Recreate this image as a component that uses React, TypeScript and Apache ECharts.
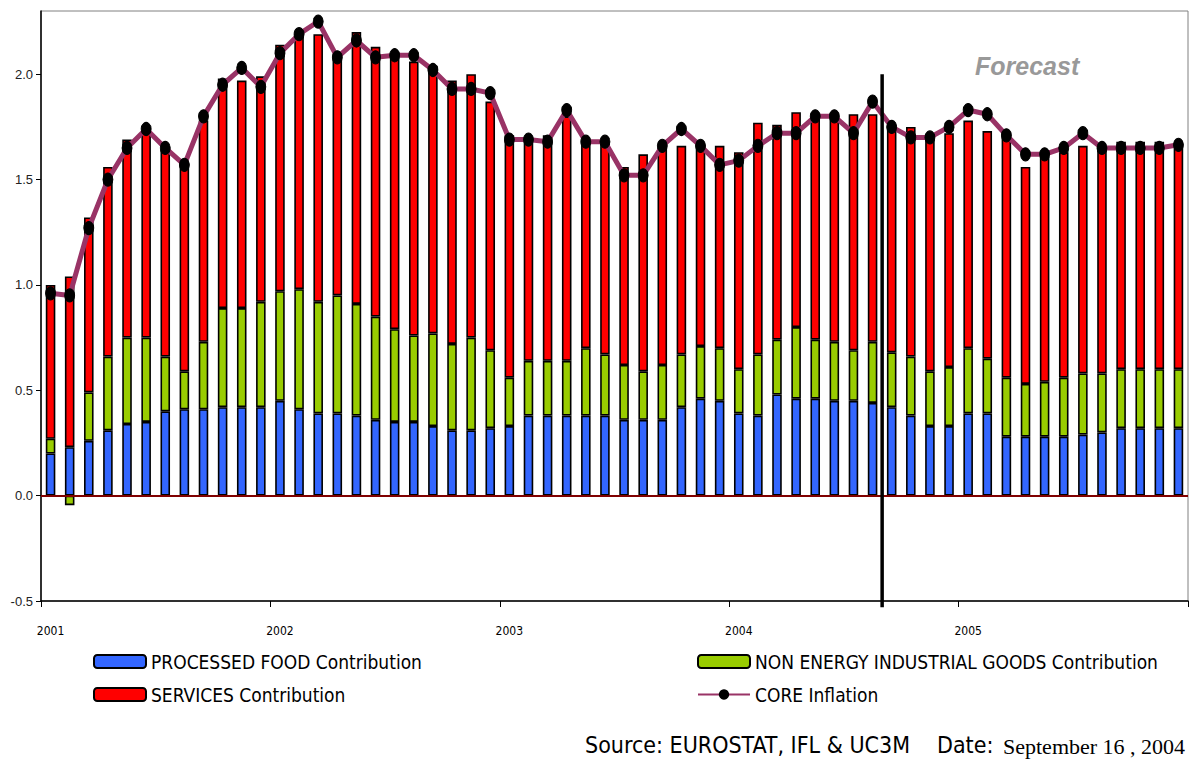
import React, { useEffect, useRef } from "react";
import * as echarts from "echarts";

const years = ["2001", "2002", "2003", "2004", "2005"];
const categories: string[] = [];
years.forEach((y) => {
  for (let m = 1; m <= 12; m++) categories.push(`${y}-${m < 10 ? "0" + m : m}`);
});

const processedFood = [
  0.20, 0.23, 0.26, 0.31, 0.34, 0.35, 0.40, 0.41, 0.41, 0.42, 0.42, 0.42,
  0.45, 0.41, 0.39, 0.39, 0.38, 0.36, 0.35, 0.35, 0.33, 0.31, 0.31, 0.32,
  0.33, 0.38, 0.38, 0.38, 0.38, 0.38, 0.36, 0.36, 0.36, 0.42, 0.46, 0.45,
  0.39, 0.38, 0.48, 0.46, 0.46, 0.45, 0.45, 0.44, 0.42, 0.38, 0.33, 0.33,
  0.39, 0.39, 0.28, 0.28, 0.28, 0.28, 0.29, 0.30, 0.32, 0.32, 0.32, 0.32,
];

const nonEnergyGoods = [
  0.07, -0.045, 0.23, 0.35, 0.41, 0.40, 0.26, 0.18, 0.32, 0.47, 0.47, 0.50,
  0.52, 0.57, 0.53, 0.56, 0.53, 0.49, 0.44, 0.41, 0.44, 0.41, 0.44, 0.37,
  0.23, 0.26, 0.26, 0.26, 0.32, 0.29, 0.26, 0.23, 0.26, 0.25, 0.25, 0.25,
  0.21, 0.29, 0.26, 0.34, 0.28, 0.28, 0.24, 0.29, 0.26, 0.28, 0.26, 0.28,
  0.31, 0.26, 0.28, 0.25, 0.26, 0.28, 0.29, 0.28, 0.28, 0.28, 0.28, 0.28,
];

const services = [
  0.73, 0.81, 0.83, 0.90, 0.94, 0.98, 0.98, 0.99, 1.05, 1.09, 1.08, 1.07,
  1.17, 1.21, 1.27, 1.13, 1.29, 1.28, 1.30, 1.30, 1.27, 1.25, 1.25, 1.18,
  1.15, 1.05, 1.07, 1.16, 0.97, 1.01, 0.94, 1.03, 1.03, 0.99, 0.95, 0.96,
  1.03, 1.10, 1.02, 1.02, 1.06, 1.07, 1.12, 1.08, 1.08, 1.09, 1.11, 1.11,
  1.08, 1.08, 1.15, 1.03, 1.07, 1.07, 1.08, 1.07, 1.08, 1.08, 1.08, 1.06,
];

const coreInflation = [
  0.96, 0.95, 1.27, 1.50, 1.65, 1.74, 1.65, 1.57, 1.80, 1.95, 2.03, 1.94,
  2.10, 2.19, 2.25, 2.08, 2.16, 2.08, 2.09, 2.09, 2.02, 1.93, 1.93, 1.91,
  1.69, 1.69, 1.68, 1.83, 1.68, 1.68, 1.52, 1.52, 1.66, 1.74, 1.66, 1.57,
  1.59, 1.66, 1.72, 1.72, 1.80, 1.80, 1.72, 1.87, 1.75, 1.70, 1.70, 1.75,
  1.83, 1.81, 1.71, 1.62, 1.62, 1.65, 1.72, 1.65, 1.65, 1.65, 1.65, 1.665,
];

// forecast divider: boundary before Sep 2004 (category index 44)
const forecastBoundary = 44;
const forecastLineRange = [2.0, -0.53];

const yTicks = [-0.5, 0.0, 0.5, 1.0, 1.5, 2.0];

const NAMES = {
  food: "PROCESSED FOOD Contribution",
  goods: "NON ENERGY INDUSTRIAL GOODS Contribution",
  services: "SERVICES Contribution",
  core: "CORE Inflation",
};

const NARROW = "'Liberation Sans Narrow', 'Arial Narrow', 'DejaVu Sans Condensed', sans-serif";

export default function App() {
  const ref = useRef<HTMLDivElement>(null);

  useEffect(() => {
    if (!ref.current) return;
    const chart = echarts.init(ref.current, undefined, { renderer: "svg" });
    const barStyle = (color: string) => ({
      color,
      borderColor: "#000",
      borderWidth: 1.6,
    });
    chart.setOption({
      animation: false,
      backgroundColor: "#fff",
      grid: {
        left: 41,
        right: 6,
        top: 11,
        bottom: 161,
        show: true,
        borderColor: "#808080",
        borderWidth: 1,
        backgroundColor: "transparent",
      },
      legend: [
        {
          data: [NAMES.food, NAMES.services],
          orient: "vertical",
          left: 88,
          top: 647,
          itemWidth: 52,
          itemHeight: 13,
          itemGap: 14,
          textStyle: { fontFamily: NARROW, fontSize: 19, color: "#000" },
        },
        {
          data: [NAMES.goods, NAMES.core],
          orient: "vertical",
          left: 692,
          top: 647,
          itemWidth: 52,
          itemHeight: 13,
          itemGap: 14,
          textStyle: { fontFamily: NARROW, fontSize: 19, color: "#000" },
        },
      ],
      xAxis: [
        {
          type: "category",
          data: categories,
          boundaryGap: true,
          axisLine: { onZero: false, lineStyle: { color: "#000", width: 1.5 } },
          axisTick: {
            show: true,
            length: 6,
            interval: (idx: number) => idx % 12 === 0,
            lineStyle: { color: "#000" },
          },
          axisLabel: {
            interval: (idx: number) => idx % 12 === 0,
            formatter: (v: string) => years[Math.floor(categories.indexOf(v) / 12)],
            fontFamily: NARROW,
            fontSize: 12,
            color: "#000",
            margin: 24,
          },
          splitLine: { show: false },
        },
        {
          type: "value",
          min: 0,
          max: 60,
          show: false,
        },
      ],
      yAxis: {
        type: "value",
        min: yTicks[0],
        max: 2.3,
        interval: 0.5,
        axisLine: { show: true, lineStyle: { color: "#000", width: 1.5 } },
        axisTick: { show: true, length: 5, lineStyle: { color: "#000" } },
        axisLabel: {
          showMaxLabel: false,
          formatter: (v: number) => (yTicks.some((t) => Math.abs(t - v) < 1e-6) ? v.toFixed(1) : ""),
          fontFamily: "'Liberation Sans', Arial, sans-serif",
          fontSize: 13,
          color: "#222",
          margin: 8,
        },
        splitLine: { show: false },
      },
      graphic: [
        {
          type: "text",
          left: 975,
          top: 53,
          style: {
            text: "Forecast",
            fontFamily: "'Liberation Sans', Arial, sans-serif",
            fontSize: 25,
            fontWeight: "bold",
            fontStyle: "italic",
            fill: "#999999",
          },
        },
        {
          type: "text",
          left: 585,
          top: 733,
          style: {
            text: "Source: EUROSTAT, IFL & UC3M",
            fontFamily: NARROW,
            fontSize: 23,
            fill: "#000",
          },
        },
        {
          type: "text",
          left: 937,
          top: 733,
          style: {
            text: "Date:",
            fontFamily: NARROW,
            fontSize: 23,
            fill: "#000",
          },
        },
        {
          type: "text",
          left: 1003,
          top: 735,
          style: {
            text: "September 16 , 2004",
            fontFamily: "'Liberation Serif', 'Times New Roman', serif",
            fontSize: 22,
            fill: "#000",
          },
        },
      ],
      series: [
        {
          name: NAMES.food,
          type: "bar",
          stack: "contrib",
          barWidth: "50%",
          data: processedFood,
          itemStyle: barStyle("#3366FF"),
          markLine: {
            silent: true,
            symbol: "none",
            label: { show: false },
            lineStyle: { color: "#800000", width: 2, type: "solid" },
            data: [{ yAxis: 0 }],
          },
        },
        {
          name: NAMES.goods,
          type: "bar",
          stack: "contrib",
          barWidth: "50%",
          data: nonEnergyGoods,
          itemStyle: barStyle("#99CC00"),
        },
        {
          name: NAMES.services,
          type: "bar",
          stack: "contrib",
          barWidth: "50%",
          data: services,
          itemStyle: barStyle("#FF0000"),
        },
        {
          name: NAMES.core,
          type: "line",
          data: coreInflation,
          symbol: "circle",
          symbolSize: [10, 13],
          showAllSymbol: true,
          lineStyle: { color: "#993366", width: 5 },
          itemStyle: { color: "#000", borderColor: "#000" },
          z: 5,
        },
        {
          name: "forecast-divider",
          type: "line",
          xAxisIndex: 1,
          clip: false,
          symbol: "none",
          silent: true,
          data: forecastLineRange.map((v) => [forecastBoundary, v]),
          lineStyle: { color: "#000", width: 3.5 },
          z: 6,
        },
      ],
    });
    return () => chart.dispose();
  }, []);

  return (
    <div
      ref={ref}
      style={{ position: "absolute", left: 0, top: 0, width: 1194, height: 762 }}
    />
  );
}
